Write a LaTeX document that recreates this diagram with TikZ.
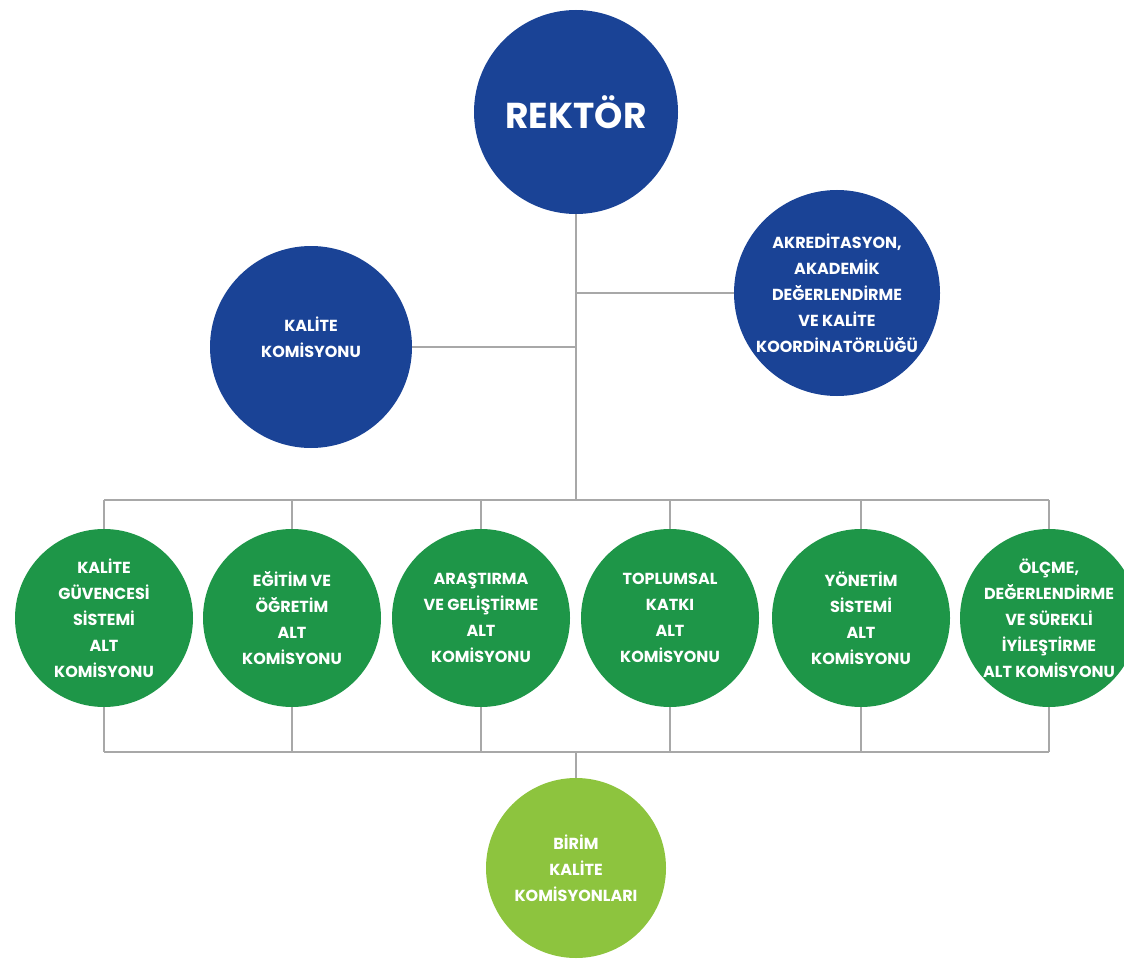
\documentclass[tikz,border=0pt]{standalone}
\usepackage{fontspec}
\setmainfont{Poppins}
\definecolor{dblue}{RGB}{26,67,150}
\definecolor{dgreen}{RGB}{30,150,72}
\definecolor{lgreen}{RGB}{141,196,62}
\definecolor{lineg}{RGB}{168,168,168}
\begin{document}
\begin{tikzpicture}[x=1pt,y=-1pt,
  circ/.style={circle,inner sep=0pt,text=white,align=center,font=\bfseries\fontsize{16}{26}\selectfont},
  bluec/.style={circ,fill=dblue},
  greenc/.style={circ,fill=dgreen,minimum size=178pt},
  lightc/.style={circ,fill=lgreen,minimum size=180pt},
  conn/.style={draw=lineg,line width=1.4pt}]
\useasboundingbox (0,0) rectangle (1124,960);
\node[bluec,minimum size=204pt,font=\bfseries\fontsize{36}{40}\selectfont] (rektor) at (576,112) {REKTÖR};
\node[bluec,minimum size=202pt] (kalite) at (311,347) {KALİTE\\KOMİSYONU\\[-14pt]\strut};
\node[bluec,minimum size=206pt] (akr) at (837,293) {AKREDİTASYON,\\AKADEMİK\\DEĞERLENDİRME\\VE KALİTE\\KOORDİNATÖRLÜĞÜ};
\node[greenc] (g1) at (104,618) {KALİTE\\GÜVENCESİ\\SİSTEMİ\\ALT\\KOMİSYONU};
\node[greenc] (g2) at (292,618) {EĞİTİM VE\\ÖĞRETİM\\ALT\\KOMİSYONU};
\node[greenc] (g3) at (481,618) {ARAŞTIRMA\\VE GELİŞTİRME\\ALT\\KOMİSYONU};
\node[greenc] (g4) at (670,618) {TOPLUMSAL\\KATKI\\ALT\\KOMİSYONU};
\node[greenc] (g5) at (861,618) {YÖNETİM\\SİSTEMİ\\ALT\\KOMİSYONU};
\node[greenc] (g6) at (1049,618) {ÖLÇME,\\DEĞERLENDİRME\\VE SÜREKLİ\\İYİLEŞTİRME\\ALT KOMİSYONU};
\node[lightc] (birim) at (576,868) {BİRİM\\KALİTE\\KOMİSYONLARI};
\coordinate (tb) at (576,500);
\coordinate (bb) at (576,752);
\draw[conn] (rektor.south) -- (tb);
\draw[conn] (kalite.east) -- (kalite.east -| tb);
\draw[conn] (akr.west) -- (akr.west -| tb);
\draw[conn] (g1.north |- tb) -- (g6.north |- tb);
\draw[conn] (g1.south |- bb) -- (g6.south |- bb);
\foreach \g in {g1,g2,g3,g4,g5,g6}{
  \draw[conn] (\g.north) -- (\g.north |- tb);
  \draw[conn] (\g.south) -- (\g.south |- bb);
}
\draw[conn] (bb) -- (birim.north);
\end{tikzpicture}
\end{document}
